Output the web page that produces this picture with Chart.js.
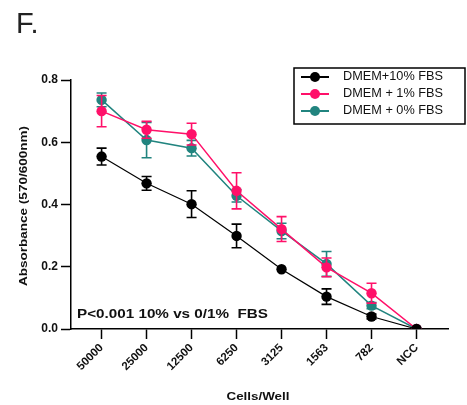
<!DOCTYPE html>
<html>
<head>
<meta charset="utf-8">
<script src="https://cdn.jsdelivr.net/npm/chart.js@4"></script>
<style>
  html, body { margin: 0; padding: 0; background: #fff; }
  #wrap { width: 467px; height: 405px; position: relative; }
</style>
</head>
<body>
<div id="wrap"><canvas id="chart" width="467" height="405"></canvas></div>
<script>
// categories (x axis)
const cells = ["50000", "25000", "12500", "6250", "3125", "1563", "782", "NCC"];

// mean absorbance per group
const fbs10 = [0.554, 0.468, 0.401, 0.299, 0.192, 0.104, 0.040, 0.0];
const fbs1 = [0.700, 0.640, 0.626, 0.444, 0.321, 0.198, 0.115, 0.0];
const fbs0 = [0.736, 0.607, 0.581, 0.428, 0.315, 0.209, 0.075, 0.0];

// error (SD) per group
const err10 = [0.027, 0.022, 0.043, 0.038, 0.0, 0.025, 0.008, 0.0];
const err1 = [0.050, 0.027, 0.035, 0.058, 0.040, 0.030, 0.032, 0.0];
const err0 = [0.022, 0.057, 0.025, 0.020, 0.025, 0.040, 0.010, 0.0];

const yTicks = [0, 0.2, 0.4, 0.6, 0.8];

const BLACK = "#000000";
const PINK = "#FF1069";
const TEAL = "#21847F";
const FONT = "'Liberation Sans', Arial, sans-serif";

function toPoints(vals) {
  return vals.map((v, i) => ({ x: i, y: v }));
}

function makeSet(label, vals, errs, color, width) {
  return {
    label,
    data: toPoints(vals),
    errors: errs,
    borderColor: color,
    backgroundColor: color,
    borderWidth: width,
    pointRadius: 5.2,
    pointHoverRadius: 5.2,
    pointBorderWidth: 0,
    tension: 0,
  };
}

// draw text squeezed / stretched to a wanted width
function fitText(ctx, text, x, y, targetW, rot) {
  ctx.save();
  ctx.translate(x, y);
  if (rot) ctx.rotate(rot);
  const w = ctx.measureText(text).width;
  ctx.scale(targetW / w, 1);
  ctx.fillText(text, 0, 0);
  ctx.restore();
}

// vertical error bars, drawn under each dataset's points
const errorBars = {
  id: "errorBars",
  beforeDatasetDraw(chart, args) {
    const ds = chart.data.datasets[args.index];
    const meta = args.meta;
    const y = chart.scales.y;
    const ctx = chart.ctx;
    ctx.save();
    ctx.strokeStyle = ds.borderColor;
    ctx.lineWidth = 1.6;
    meta.data.forEach((pt, i) => {
      const e = ds.errors[i];
      if (!e) return;
      const v = ds.data[i].y;
      const top = y.getPixelForValue(v + e);
      const bot = y.getPixelForValue(v - e);
      ctx.beginPath();
      ctx.moveTo(pt.x, top);
      ctx.lineTo(pt.x, bot);
      ctx.moveTo(pt.x - 5, top);
      ctx.lineTo(pt.x + 5, top);
      ctx.moveTo(pt.x - 5, bot);
      ctx.lineTo(pt.x + 5, bot);
      ctx.stroke();
    });
    ctx.restore();
  },
};

// panel letter, axis titles, annotation and boxed legend
const extras = {
  id: "extras",
  afterDraw(chart) {
    const ctx = chart.ctx;
    ctx.save();
    ctx.fillStyle = "#222";
    ctx.textBaseline = "alphabetic";
    ctx.textAlign = "left";
    ctx.font = "29px " + FONT;
    ctx.fillText("F.", 16, 33);

    ctx.fillStyle = "#111";
    ctx.font = "bold 10px " + FONT;
    ctx.textAlign = "center";
    ctx.textBaseline = "middle";
    fitText(ctx, "Absorbance (570/600nm)", 24, 206, 160, -Math.PI / 2);
    fitText(ctx, "Cells/Well", 258, 397, 63, 0);

    ctx.font = "bold 12px " + FONT;
    ctx.textAlign = "left";
    fitText(ctx, "P<0.001 10% vs 0/1%  FBS", 77, 315, 191, 0);

    // legend
    const lx = 294, ly = 68, lw = 171, lh = 56;
    ctx.strokeStyle = "#000";
    ctx.lineWidth = 1.5;
    ctx.strokeRect(lx, ly, lw, lh);
    ctx.font = "12px " + FONT;
    chart.data.datasets.forEach((ds, i) => {
      const cy = 77 + i * 17;
      ctx.strokeStyle = ds.borderColor;
      ctx.lineWidth = 2;
      ctx.beginPath();
      ctx.moveTo(301, cy);
      ctx.lineTo(329, cy);
      ctx.stroke();
      ctx.fillStyle = ds.borderColor;
      ctx.beginPath();
      ctx.arc(315, cy, 5, 0, Math.PI * 2);
      ctx.fill();
      ctx.fillStyle = "#111";
      fitText(ctx, ds.label, 343, cy, ctx.measureText(ds.label).width * 1.06, 0);
    });
    ctx.restore();
  },
};

new Chart(document.getElementById("chart"), {
  type: "line",
  data: {
    datasets: [
      makeSet("DMEM+10% FBS", fbs10, err10, BLACK, 1.2),
      makeSet("DMEM + 1% FBS", fbs1, err1, PINK, 1.5),
      makeSet("DMEM + 0% FBS", fbs0, err0, TEAL, 1.5),
    ],
  },
  options: {
    responsive: false,
    animation: false,
    layout: { padding: { top: 80, right: 19, left: 0, bottom: 0 } },
    plugins: {
      legend: { display: false },
      tooltip: { enabled: false },
    },
    scales: {
      x: {
        type: "linear",
        min: -0.68,
        max: 7.7,
        afterBuildTicks: (scale) => {
          scale.ticks = cells.map((_, i) => ({ value: i }));
        },
        afterFit: (scale) => {
          scale.height = 76;
        },
        grid: {
          drawOnChartArea: false,
          drawTicks: true,
          tickLength: 10,
          tickWidth: 1.5,
          color: "#000",
        },
        border: { display: true, color: "#000", width: 1.5 },
        ticks: {
          autoSkip: false,
          minRotation: 45,
          maxRotation: 45,
          padding: 2,
          color: "#111",
          font: { family: FONT, size: 11.5, weight: "bold" },
          callback: (v) => cells[Math.round(v)],
        },
      },
      y: {
        min: 0,
        max: 0.8,
        afterBuildTicks: (scale) => {
          scale.ticks = yTicks.map((v) => ({ value: v }));
        },
        afterFit: (scale) => {
          scale.width = 71;
        },
        grid: {
          drawOnChartArea: false,
          drawTicks: true,
          tickLength: 10,
          tickWidth: 1.5,
          color: "#000",
        },
        border: { display: true, color: "#000", width: 1.5 },
        ticks: {
          padding: 3,
          color: "#111",
          font: { family: FONT, size: 12, weight: "bold" },
          callback: (v) => v.toFixed(1),
        },
      },
    },
  },
  plugins: [errorBars, extras],
});
</script>
</body>
</html>
